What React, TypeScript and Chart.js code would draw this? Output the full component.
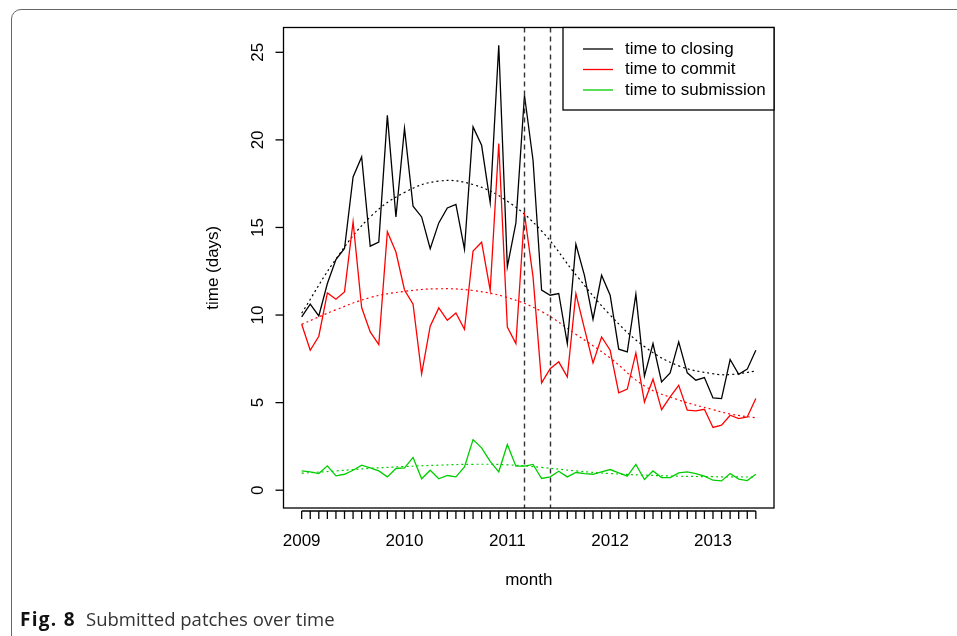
import React, { useEffect, useRef } from 'react';
import { Chart, registerables } from 'chart.js';

Chart.register(...registerables);

// Monthly categories: 2009-01 .. 2013-06 (54 months)
const monthLabels = [
  '2009-01','2009-02','2009-03','2009-04','2009-05','2009-06','2009-07','2009-08','2009-09','2009-10','2009-11','2009-12',
  '2010-01','2010-02','2010-03','2010-04','2010-05','2010-06','2010-07','2010-08','2010-09','2010-10','2010-11','2010-12',
  '2011-01','2011-02','2011-03','2011-04','2011-05','2011-06','2011-07','2011-08','2011-09','2011-10','2011-11','2011-12',
  '2012-01','2012-02','2012-03','2012-04','2012-05','2012-06','2012-07','2012-08','2012-09','2012-10','2012-11','2012-12',
  '2013-01','2013-02','2013-03','2013-04','2013-05','2013-06',
];

const timeToClosing = [
  9.89, 10.62, 9.95, 11.8, 13.17, 13.8, 17.88, 19.03, 13.93, 14.17,
  21.4, 15.6, 20.66, 16.21, 15.6, 13.79, 15.26, 16.11, 16.32, 13.76,
  20.74, 19.69, 16.42, 25.4, 12.75, 15.26, 22.55, 18.84, 11.42, 11.13,
  11.23, 8.37, 14.04, 12.27, 9.76, 12.27, 11.13, 8.05, 7.9, 11.19,
  6.51, 8.37, 6.18, 6.7, 8.47, 6.7, 6.28, 6.43, 5.27, 5.23,
  7.46, 6.62, 6.91, 7.99,
];

const timeToCommit = [
  9.47, 7.99, 8.79, 11.26, 10.9, 11.32, 15.32, 10.43, 9.04, 8.31,
  14.76, 13.6, 11.43, 10.62, 6.64, 9.36, 10.41, 9.7, 10.12, 9.19,
  13.66, 14.16, 11.42, 19.79, 9.32, 8.37, 15.79, 12.18, 6.13, 6.94,
  7.33, 6.47, 11.23, 9.23, 7.27, 8.75, 7.99, 5.56, 5.77, 7.84,
  5.04, 6.34, 4.6, 5.33, 5.99, 4.57, 4.53, 4.62, 3.58, 3.71,
  4.28, 4.09, 4.18, 5.23,
];

const timeToSubmission = [
  1.1, 1.05, 0.95, 1.39, 0.82, 0.91, 1.14, 1.43, 1.27, 1.1,
  0.76, 1.24, 1.27, 1.87, 0.65, 1.14, 0.65, 0.84, 0.76, 1.33,
  2.89, 2.42, 1.65, 1.05, 2.61, 1.37, 1.37, 1.47, 0.67, 0.76,
  1.08, 0.76, 1.01, 0.95, 0.91, 1.05, 1.18, 0.99, 0.8, 1.47,
  0.61, 1.1, 0.72, 0.72, 0.99, 1.05, 0.95, 0.8, 0.57, 0.53,
  0.95, 0.63, 0.55, 0.91,
];

// Fitted trend curves at these month indices
const trendMonths = [0, 4, 8, 12, 16, 20, 24, 28, 32, 36, 40, 44, 48, 50, 53];
const closingTrend = [10.1, 13.2, 15.6, 17.0, 17.65, 17.45, 16.5, 14.8, 12.3, 10.0, 8.2, 7.1, 6.65, 6.6, 6.8];
const commitTrend = [9.47, 10.3, 11.0, 11.35, 11.5, 11.4, 11.0, 10.2, 8.9, 7.55, 5.95, 5.15, 4.6, 4.35, 4.13];
const submissionTrend = [0.97, 1.1, 1.25, 1.35, 1.43, 1.48, 1.45, 1.3, 1.1, 0.95, 0.86, 0.8, 0.77, 0.76, 0.75];

const markerMonths = [26, 29];
const yTicks = [0, 5, 10, 15, 20, 25];
const yearLabels = ['2009', '2010', '2011', '2012', '2013'];
const seriesNames = ['time to closing', 'time to commit', 'time to submission'];
const seriesColors = ['#000000', '#ff0000', '#00cd00'];

const FONT = '17px "Liberation Sans", Arial, sans-serif';

const axesPlugin = {
  id: 'rAxes',
  afterDatasetsDraw(chart: any) {
    const { ctx, chartArea } = chart;
    const xs = chart.scales.x;
    const ys = chart.scales.y;
    const { left, right, top, bottom } = chartArea;
    ctx.save();

    // vertical dashed markers
    ctx.strokeStyle = '#333';
    ctx.lineWidth = 1.4;
    ctx.setLineDash([5, 4]);
    markerMonths.forEach((m) => {
      const px = Math.round(xs.getPixelForValue(m)) + 0.5;
      ctx.beginPath();
      ctx.moveTo(px, top);
      ctx.lineTo(px, bottom);
      ctx.stroke();
    });
    ctx.setLineDash([]);

    // plot box
    ctx.strokeStyle = '#000';
    ctx.lineWidth = 1.3;
    ctx.strokeRect(left, top, right - left, bottom - top);

    // y axis ticks + labels
    ctx.fillStyle = '#000';
    ctx.font = FONT;
    yTicks.forEach((t) => {
      const py = ys.getPixelForValue(t);
      ctx.beginPath();
      ctx.moveTo(left - 8, py);
      ctx.lineTo(left, py);
      ctx.stroke();
      ctx.save();
      ctx.translate(left - 25, py);
      ctx.rotate(-Math.PI / 2);
      ctx.textAlign = 'center';
      ctx.textBaseline = 'middle';
      ctx.fillText(String(t), 0, 0);
      ctx.restore();
    });

    // x axis line + monthly ticks
    const axY = bottom + 3;
    const x0 = xs.getPixelForValue(0);
    const x1 = xs.getPixelForValue(monthLabels.length - 1);
    ctx.beginPath();
    ctx.moveTo(x0, axY);
    ctx.lineTo(x1, axY);
    ctx.stroke();
    monthLabels.forEach((_, i) => {
      const px = xs.getPixelForValue(i);
      ctx.beginPath();
      ctx.moveTo(px, axY);
      ctx.lineTo(px, axY + 8);
      ctx.stroke();
    });
    ctx.textAlign = 'center';
    ctx.textBaseline = 'middle';
    yearLabels.forEach((lab, k) => {
      const px = xs.getPixelForValue(k * 12);
      ctx.fillText(lab, px, bottom + 33);
    });

    // axis titles
    ctx.fillText('month', (left + right) / 2, bottom + 72);
    ctx.save();
    ctx.translate(left - 70, (top + bottom) / 2);
    ctx.rotate(-Math.PI / 2);
    ctx.fillText('time (days)', 0, 0);
    ctx.restore();

    // legend
    const lx = right - 211;
    const lh = 82.5;
    ctx.fillStyle = '#fff';
    ctx.fillRect(lx, top, right - lx, lh);
    ctx.strokeStyle = '#000';
    ctx.strokeRect(lx, top, right - lx, lh);
    seriesNames.forEach((name, k) => {
      const ry = top + 21.5 + k * 20.5;
      ctx.strokeStyle = seriesColors[k];
      ctx.lineWidth = 1.3;
      ctx.beginPath();
      ctx.moveTo(lx + 20, ry);
      ctx.lineTo(lx + 50, ry);
      ctx.stroke();
      ctx.fillStyle = '#000';
      ctx.textAlign = 'left';
      ctx.textBaseline = 'middle';
      ctx.fillText(name, lx + 62, ry);
    });

    ctx.restore();
  },
};

export default function App() {
  const canvasRef = useRef<HTMLCanvasElement | null>(null);

  useEffect(() => {
    if (!canvasRef.current) return;
    const toPts = (arr: number[]) => arr.map((v, i) => ({ x: i, y: v }));
    const toTrend = (arr: number[]) => arr.map((v, k) => ({ x: trendMonths[k], y: v }));
    const seriesData = [timeToClosing, timeToCommit, timeToSubmission];
    const trendData = [closingTrend, commitTrend, submissionTrend];

    const datasets: any[] = [];
    seriesData.forEach((arr, k) => {
      datasets.push({
        label: seriesNames[k],
        data: toPts(arr),
        borderColor: seriesColors[k],
        borderWidth: 1.3,
        pointRadius: 0,
        tension: 0,
        fill: false,
      });
    });
    trendData.forEach((arr, k) => {
      datasets.push({
        label: seriesNames[k] + ' trend',
        data: toTrend(arr),
        borderColor: seriesColors[k],
        borderWidth: 1.2,
        borderDash: [2, 3],
        pointRadius: 0,
        tension: 0.4,
        fill: false,
      });
    });

    const n = monthLabels.length - 1;
    const yMaxData = 25.4;
    const chart = new Chart(canvasRef.current, {
      type: 'line',
      data: { datasets },
      options: {
        responsive: false,
        animation: false,
        events: [],
        layout: { padding: { left: 283.5, top: 27.5, right: 183, bottom: 128 } },
        plugins: { legend: { display: false }, tooltip: { enabled: false } },
        scales: {
          x: { type: 'linear', display: false, min: -n * 0.04, max: n * 1.04 },
          y: { type: 'linear', display: false, min: -yMaxData * 0.04, max: yMaxData * 1.04 },
        },
      },
      plugins: [axesPlugin],
    });
    return () => chart.destroy();
  }, []);

  return (
    <div style={{ position: 'fixed', left: 0, top: 0, width: 957, height: 636, overflow: 'hidden', background: '#fff' }}>
      <div
        style={{
          position: 'absolute', left: 11, top: 9, width: 1000, height: 700,
          border: '1.5px solid #666', borderRadius: 10, boxSizing: 'border-box',
        }}
      />
      <canvas ref={canvasRef} width={957} height={636} style={{ position: 'absolute', left: 0, top: 0, display: 'block' }} />
      <div
        style={{
          position: 'absolute', left: 20, top: 606, fontFamily: '"Open Sans", "Noto Sans", sans-serif',
          fontSize: 18.5, color: '#333', whiteSpace: 'nowrap',
        }}
      >
        <span style={{ fontWeight: 700, color: '#111', fontSize: 19, letterSpacing: 1.3 }}>Fig. 8</span>
        <span style={{ marginLeft: 10 }}>Submitted patches over time</span>
      </div>
    </div>
  );
}
